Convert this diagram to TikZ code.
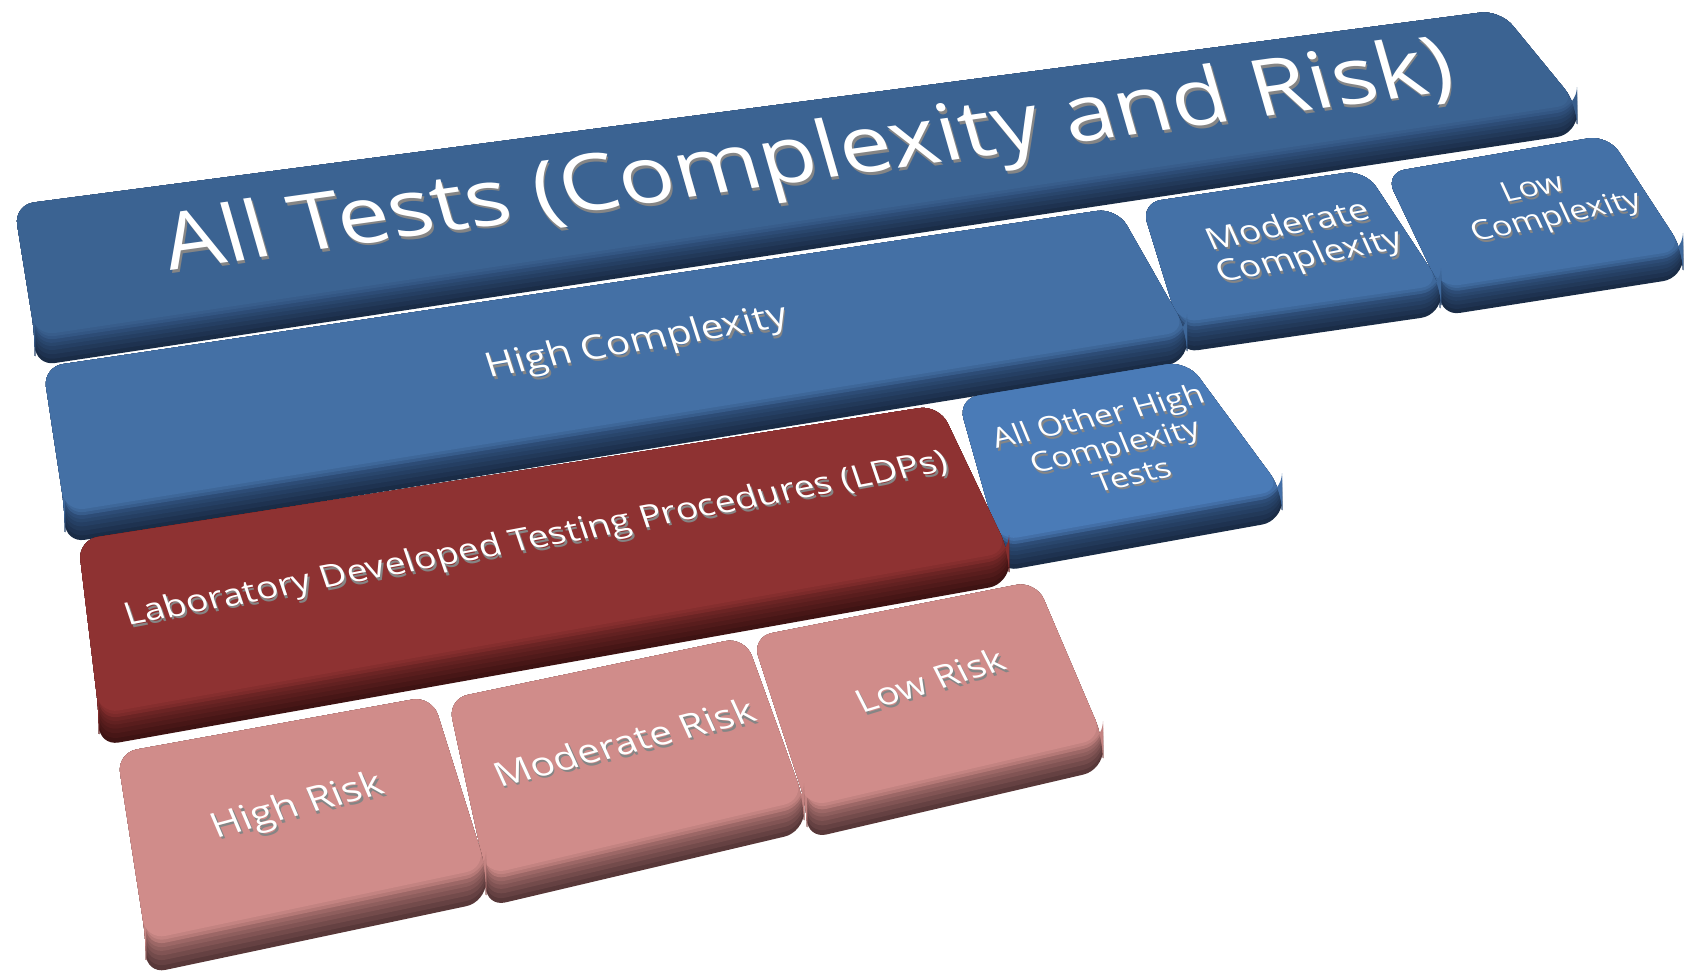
\documentclass[tikz,border=0pt]{standalone}
\usepackage{fontspec}
\setmainfont{Open Sans}
\usetikzlibrary{calc}
\definecolor{atTop}{HTML}{3B6392}
\definecolor{hcTop}{HTML}{4470A5}
\definecolor{smTop}{HTML}{4471A7}
\definecolor{aoTop}{HTML}{4A7BB7}
\definecolor{blMid}{HTML}{2D4C76}
\definecolor{blDark}{HTML}{1A2C46}
\definecolor{rdTop}{HTML}{8E3232}
\definecolor{rdMid}{HTML}{6B2424}
\definecolor{rdDark}{HTML}{3E1313}
\definecolor{pkTop}{HTML}{D08C8A}
\definecolor{pkMid}{HTML}{9C6766}
\definecolor{pkDark}{HTML}{583839}
\tikzset{
  keytxt/.style={text=white, align=center, inner sep=0pt},
  keyshd/.style={text=black!48, align=center, inner sep=0pt},
}
\newcommand\drawkey[8]{%
  \foreach \f/\m in {1/0,0.85/20,0.7/40,0.56/60,0.43/80,0.32/100}{%
    \fill[#7!\m!#8, rounded corners=20pt] (#1) -- (#2) -- (#3) -- ($(#3)+(0,\f*#5)$) -- ($(#4)+(0,\f*#5)$) -- (#4) -- cycle;
  }
  \fill[#6!45!#7, rounded corners=20pt] (#1) -- (#2) -- (#3) -- ($(#3)+(0,0.2*#5)$) -- ($(#4)+(0,0.2*#5)$) -- (#4) -- cycle;
  \fill[#6!75!#7, rounded corners=20pt] (#1) -- (#2) -- (#3) -- ($(#3)+(0,0.1*#5)$) -- ($(#4)+(0,0.1*#5)$) -- (#4) -- cycle;
  \fill[#6, rounded corners=20pt] (#1) -- (#2) -- (#3) -- (#4) -- cycle;
}
\newcommand\keylabel[8]{%
  \node[rotate=#3, yscale=#7, xslant=#8, keyshd, font=\fontsize{#4}{#5}\selectfont] (#1s) at ($(#2)+(1.6,2.8)$) {#6};
  \node[rotate=#3, yscale=#7, xslant=#8, keytxt, font=\fontsize{#4}{#5}\selectfont] (#1) at (#2) {#6};
}
\begin{document}
\begin{tikzpicture}[x=1pt,y=-1pt]
\useasboundingbox (0,0) rectangle (1692,977);
% back row
\drawkey{14,205}{1500,10}{1577,104}{35,336}{30}{atTop}{blMid}{blDark}
\drawkey{1385,173}{1608,135}{1683,250}{1440,288}{28}{smTop}{blMid}{blDark}
\drawkey{1141,203}{1365,170}{1441,285}{1178,323}{30}{smTop}{blMid}{blDark}
% middle
\drawkey{43,367}{1117,208}{1187,331}{65,512}{31}{hcTop}{blMid}{blDark}
\drawkey{958,399}{1187,361}{1282,490}{998,541}{31}{aoTop}{blMid}{blDark}
% red
\drawkey{78,540}{939,405}{1009,552}{99,714}{32}{rdTop}{rdMid}{rdDark}
% pink
\drawkey{752,637}{1036,581}{1103,738}{807,807}{32}{pkTop}{pkMid}{pkDark}
\drawkey{448,699}{745,637}{804,800}{486,875}{32}{pkTop}{pkMid}{pkDark}
\drawkey{117,753}{432,696}{486,868}{146,940}{34}{pkTop}{pkMid}{pkDark}
% labels
\keylabel{atl}{809,160}{8}{93}{100}{All Tests (Complexity and Risk)}{0.85}{-0.12}
\keylabel{hcl}{637,343}{9.8}{40}{44}{High Complexity}{0.85}{-0.12}
\keylabel{mcl}{1296,243}{11}{36}{40}{Moderate\\\hspace*{14pt}Complexity}{0.85}{-0.2}
\keylabel{lcl}{1540,205}{11.5}{33}{38}{Low\\\hspace*{20pt}Complexity}{0.85}{-0.2}
\keylabel{aol}{1110,446}{12.5}{33}{38}{All Other High\\\hspace*{9pt}Complexity\\\hspace*{19pt}Tests}{0.85}{-0.15}
\keylabel{ldl}{537,540}{10.7}{37}{40}{Laboratory Developed Testing Procedures (LDPs)}{0.85}{-0.12}
\keylabel{hrl}{298,807}{15}{41}{44}{High Risk}{0.85}{-0.12}
\keylabel{mrl}{624,742}{14.5}{40}{44}{Moderate Risk}{0.85}{-0.15}
\keylabel{lrl}{930,680}{17}{38}{40}{Low Risk}{0.85}{-0.15}
\end{tikzpicture}
\end{document}
